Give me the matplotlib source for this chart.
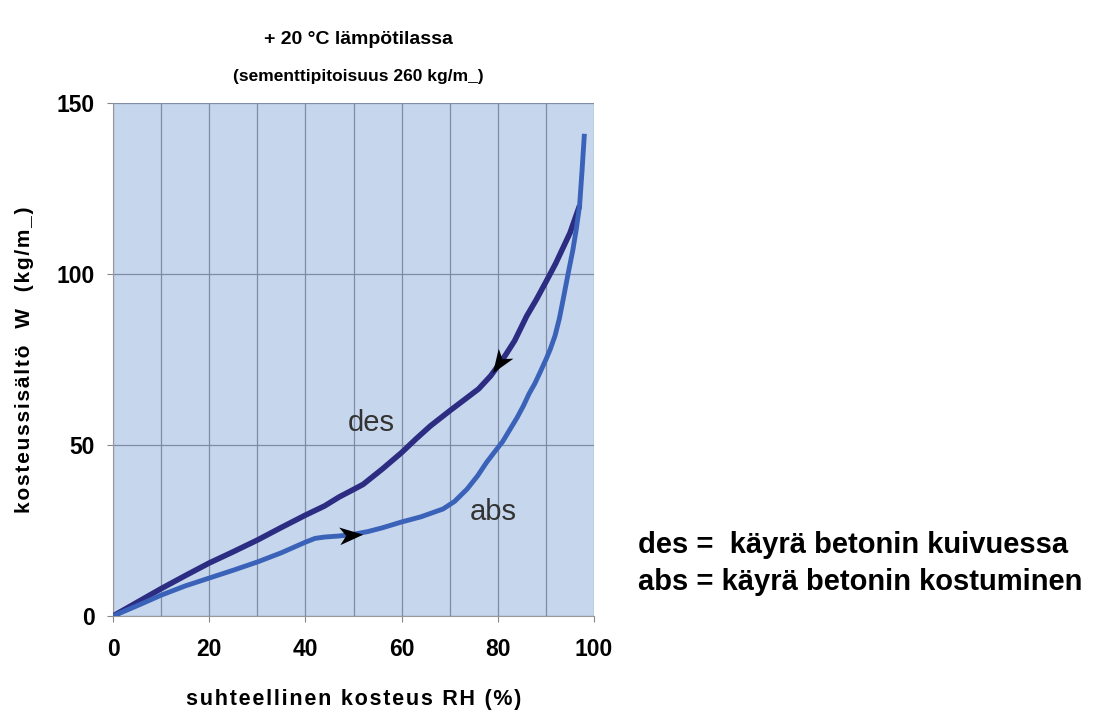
import matplotlib.pyplot as plt
from matplotlib.path import Path
from matplotlib.markers import MarkerStyle
from matplotlib.transforms import Affine2D

# desorption curve (drying)
des_rh = [0, 5, 10, 15, 20, 25, 30, 35, 40, 44, 47, 50, 52, 56, 60, 63, 66, 70, 73, 76,
          78.5, 81, 83.5, 86, 88, 90, 92, 93.5, 95, 96, 97]
des_w = [0, 4, 8, 11.8, 15.5, 18.8, 22.2, 25.9, 29.5, 32.2, 34.8, 37, 38.5, 43, 47.8, 51.8, 55.6, 60, 63.2, 66.4,
         70.2, 75, 80.5, 87.7, 92.5, 97.7, 103, 107.5, 112, 116, 120]

# absorption curve (wetting)
abs_rh = [0, 5, 10, 15, 20, 25, 30, 35, 40, 42, 44, 47, 50, 53, 56, 60, 64, 68.6, 71, 73.6,
          75.8, 77.7, 79.5, 81, 82.5, 84, 85.3, 86.5, 87.7, 88.8, 90, 90.9, 91.9, 92.8, 93.6,
          94.6, 95.6, 96.3, 97, 97.5, 98]
abs_w = [0, 3, 6.1, 8.8, 11.1, 13.4, 15.8, 18.5, 21.6, 22.7, 23.1, 23.4, 23.9, 24.7, 25.8, 27.5, 29, 31.3, 33.5, 37.1,
         41, 45, 48.3, 51, 54.5, 58, 61.4, 65, 68, 71.3, 75, 78, 82, 87, 92.7,
         100, 107, 113, 120, 130, 141]

# arrowheads: position (RH, W) and pointing angle in degrees
arrow_des = (80.3, 74.0, -124)
arrow_abs = (49.5, 23.7, 4)

x_ticks = [0, 20, 40, 60, 80, 100]
y_ticks = [0, 50, 100, 150]

plt.rcParams['font.family'] = ['Liberation Sans', 'DejaVu Sans']


def spaced(s):
    return '\u200a'.join(s)


fig = plt.figure(figsize=(11.07, 7.13), dpi=100)
ax = fig.add_axes([0.1021, 0.136, 0.4345, 0.7195])
ax.set_facecolor('#c6d6ec')

ax.set_xlim(0, 100)
ax.set_ylim(0, 150)
ax.set_xticks(x_ticks)
ax.set_yticks(y_ticks)
ax.set_xticks(range(10, 100, 10), minor=True)
ax.tick_params(which='minor', length=0)
ax.tick_params(which='major', length=4, color='#888888', labelsize=16.5)
ax.tick_params(axis='x', pad=12)
ax.tick_params(axis='y', pad=9)
for lab in ax.get_xticklabels() + ax.get_yticklabels():
    lab.set_fontweight('bold')

ax.grid(True, which='both', axis='x', color='#7e8ca8', lw=0.9)
ax.grid(True, which='major', axis='y', color='#7e8ca8', lw=0.9)
ax.set_axisbelow(True)
for side in ['top', 'right']:
    ax.spines[side].set_visible(False)
for side in ['left', 'bottom']:
    ax.spines[side].set_color('#999999')

ax.plot(des_rh, des_w, color='#2c2c82', lw=4, solid_capstyle='butt', solid_joinstyle='round', zorder=3)
ax.plot(abs_rh, abs_w, color='#3a62b8', lw=3.5, solid_capstyle='butt', solid_joinstyle='round', zorder=4)

# stealth style arrowhead
stealth = Path([(1, 0), (-1, 0.75), (-0.45, 0), (-1, -0.75), (1, 0)],
               [Path.MOVETO, Path.LINETO, Path.LINETO, Path.LINETO, Path.CLOSEPOLY])
for rh, w, ang in [arrow_des, arrow_abs]:
    m = MarkerStyle(stealth, transform=Affine2D().rotate_deg(ang))
    ax.plot([rh], [w], marker=m, markersize=17, color='black', mew=0, zorder=5)

ax.text(53.6, 56.4, 'des', fontsize=21, color='#333333', ha='center', va='center')
ax.text(79, 30.4, 'abs', fontsize=21, color='#333333', ha='center', va='center')

ax.set_xlabel(spaced('suhteellinen kosteus RH (%)'), fontsize=15.5, fontweight='bold', labelpad=20)
ax.set_ylabel(spaced('kosteussisältö  W  (kg/m_)'), fontsize=15, fontweight='bold', labelpad=16)

fig.text(0.324, 0.944, '+ 20 °C lämpötilassa', fontsize=14, fontweight='bold', ha='center', va='center')
fig.text(0.324, 0.893, '(sementtipitoisuus 260 kg/m_)', fontsize=12.5, fontweight='bold', ha='center', va='center')

fig.text(0.576, 0.236, 'des =  käyrä betonin kuivuessa', fontsize=21, fontweight='bold', va='center')
fig.text(0.576, 0.184, 'abs = käyrä betonin kostuminen', fontsize=21, fontweight='bold', va='center')

fig.savefig('out.png', dpi=100)
